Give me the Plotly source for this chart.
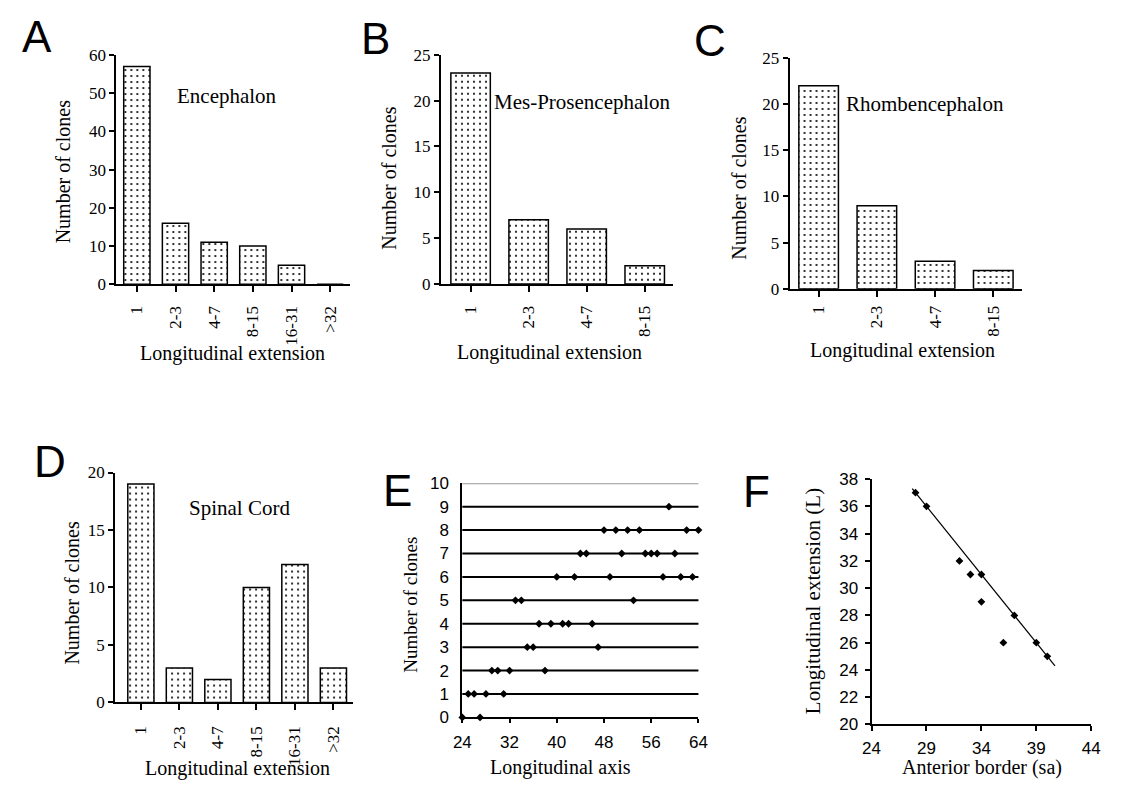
import plotly.graph_objects as go

# page is 1123x792; the browser body has an 8px margin, so the figure is
# sized to fit inside it and reference pixel positions are shifted by 8px.
PAGE_W, PAGE_H = 1123, 792
OFF = 8
W, H = PAGE_W - 2 * OFF, PAGE_H - 2 * OFF - 2

# ---------------- data ----------------
cats_A = ["1", "2-3", "4-7", "8-15", "16-31", ">32"]
vals_A = [57, 16, 11, 10, 5, 0]
cats_B = ["1", "2-3", "4-7", "8-15"]
vals_B = [23, 7, 6, 2]
cats_C = ["1", "2-3", "4-7", "8-15"]
vals_C = [22, 9, 3, 2]
cats_D = ["1", "2-3", "4-7", "8-15", "16-31", ">32"]
vals_D = [19, 3, 2, 10, 12, 3]

# Panel E: positions along the longitudinal axis for each clone-count row
E_rows = [0, 1, 2, 3, 4, 5, 6, 7, 8, 9]
E_positions = [
    [24, 27],
    [25, 26, 28, 31],
    [29, 30, 32, 38],
    [35, 36, 47],
    [37, 39, 41, 42, 46],
    [33, 34, 53],
    [40, 43, 49, 58, 61, 63],
    [44, 45, 51, 55, 56, 57, 60],
    [48, 50, 52, 54, 62, 64],
    [59],
]
E_grid_levels = [1, 2, 3, 4, 5, 6, 7, 8, 9, 10]

# Panel F
F_sa = [28, 29, 32, 33, 34, 34, 36, 37, 39, 40]
F_L = [37, 36, 32, 31, 31, 29, 26, 28, 26, 25]
F_fit_sa = [27.7, 40.7]
F_fit_total = 65  # L + sa = 65
F_fit_L = [F_fit_total - s for s in F_fit_sa]

SERIF = "Liberation Serif, Times New Roman, serif"
SANS = "Liberation Sans, Arial, sans-serif"


def px(a):
    return (a - OFF) / W


def py(b):
    return 1 - (b - OFF) / H


def dx(a, b):
    return [px(a), px(b)]


def dy(top, bottom):
    return [py(bottom), py(top)]


fig = go.Figure()

bar_pattern = dict(shape=".", size=6, solidity=0.1, fgcolor="black", bgcolor="white", fillmode="replace")

panels = [
    ("", cats_A, vals_A, dx(109, 346), dy(47, 282), [-0.53, 5.5], [0, 60], 10, 7),
    ("2", cats_B, vals_B, dx(439, 675), dy(46.7, 281.7), [-0.51, 3.49], [0, 25], 5, 7),
    ("3", cats_C, vals_C, dx(793.3, 1030), dy(50, 286.7), [-0.5, 3.5], [0, 25], 5, 2),
    ("4", cats_D, vals_D, dx(107.7, 350), dy(475, 710.7), [-0.67, 5.52], [0, 20], 5, 9),
]

layout_axes = {}
for suf, cats, vals, xd, yd, xr, yr, dt, stand in panels:
    fig.add_trace(go.Bar(
        x=cats, y=vals, width=0.68,
        marker=dict(color="white", pattern=bar_pattern, line=dict(color="black", width=1.5)),
        xaxis="x" + suf, yaxis="y" + suf, showlegend=False,
    ))
    layout_axes["xaxis" + suf] = dict(
        domain=xd, range=xr, type="category", anchor="y" + suf,
        showline=True, linecolor="black", linewidth=2,
        ticks="outside", ticklen=6, tickwidth=2, tickcolor="black",
        tickangle=-90, ticklabelstandoff=stand,
        tickfont=dict(family=SERIF, size=17, color="black"),
        showgrid=False, zeroline=False, fixedrange=True,
    )
    layout_axes["yaxis" + suf] = dict(
        domain=yd, range=yr, anchor="x" + suf, dtick=dt, tick0=0,
        showline=True, linecolor="black", linewidth=2,
        ticks="outside", ticklen=5, tickwidth=2, tickcolor="black",
        tickfont=dict(family=SERIF, size=17, color="black"),
        showgrid=False, zeroline=False, fixedrange=True,
    )

# Panel E
ex, ey = [], []
for r, pos in zip(E_rows, E_positions):
    for p in pos:
        ex.append(p)
        ey.append(r)
fig.add_trace(go.Scatter(
    x=ex, y=ey, mode="markers", xaxis="x5", yaxis="y5",
    marker=dict(symbol="diamond", size=6, color="black"),
    cliponaxis=False, showlegend=False,
))
layout_axes["xaxis5"] = dict(
    domain=dx(460.7, 700.7), range=[24, 64], anchor="y5", tick0=24, dtick=8,
    showline=True, linecolor="black", linewidth=2,
    ticks="outside", ticklen=4, tickwidth=1.5, tickcolor="black", ticklabelstandoff=4,
    tickfont=dict(family=SANS, size=17, color="black"),
    showgrid=False, zeroline=False, fixedrange=True,
)
layout_axes["yaxis5"] = dict(
    domain=dy(486, 726), range=[0, 10], anchor="x5", tick0=0, dtick=1,
    showline=True, linecolor="black", linewidth=2,
    ticks="", ticklabelstandoff=8,
    tickfont=dict(family=SANS, size=17, color="black"),
    showgrid=False, zeroline=False, fixedrange=True,
)

shapes = []
for lv in E_grid_levels:
    shapes.append(dict(
        type="line", xref="x5 domain", yref="y5", x0=0, x1=1, y0=lv, y1=lv,
        line=dict(color="#999999" if lv == max(E_grid_levels) else "black", width=2),
        layer="below",
    ))

# Panel F
fig.add_trace(go.Scatter(
    x=F_fit_sa, y=F_fit_L, mode="lines", xaxis="x6", yaxis="y6",
    line=dict(color="black", width=1.2), showlegend=False,
))
fig.add_trace(go.Scatter(
    x=F_sa, y=F_L, mode="markers", xaxis="x6", yaxis="y6",
    marker=dict(symbol="diamond", size=6, color="black"), showlegend=False,
))
layout_axes["xaxis6"] = dict(
    domain=dx(876.7, 1100), range=[24, 44], anchor="y6", tick0=24, dtick=5,
    showline=True, linecolor="black", linewidth=2,
    ticks="outside", ticklen=5, tickwidth=1.5, tickcolor="black", ticklabelstandoff=2,
    tickfont=dict(family=SANS, size=17, color="black"),
    showgrid=False, zeroline=False, fixedrange=True,
)
layout_axes["yaxis6"] = dict(
    domain=dy(481.7, 733.3), range=[20, 38], anchor="x6", tick0=20, dtick=2,
    showline=True, linecolor="black", linewidth=2,
    ticks="outside", ticklen=5, tickwidth=1.5, tickcolor="black", ticklabelstandoff=3,
    tickfont=dict(family=SANS, size=17, color="black"),
    showgrid=False, zeroline=False, fixedrange=True,
)

# ---------------- annotations ----------------
ann = []


def text(x, y, s, size, family=SERIF, angle=0):
    ann.append(dict(
        x=px(x), y=py(y), xref="paper", yref="paper", text=s, showarrow=False,
        xanchor="center", yanchor="middle", textangle=angle,
        font=dict(family=family, size=size, color="black"),
    ))


# panel letters
for letter, x, y in [("A", 28, 28), ("B", 372, 30), ("C", 712, 32),
                     ("D", 42, 464), ("E", 395, 493), ("F", 760, 494)]:
    text(x, y, letter, 44, SANS)

# inner labels
text(221, 89, "Encephalon", 21)
text(583, 95, "Mes-Prosencephalon", 21)
text(931, 97, "Rhombencephalon", 21)
text(234, 511, "Spinal Cord", 21)

# x titles
text(227, 353, "Longitudinal extension", 20)
text(549, 352, "Longitudinal extension", 20)
text(908, 350, "Longitudinal extension", 20)
text(232, 778, "Longitudinal extension", 20)
text(560, 777, "Longitudinal axis", 20)
text(989, 777, "Anterior border (sa)", 20)

# y titles
text(55, 166, "Number of clones", 20, angle=-90)
text(386, 173, "Number of clones", 20, angle=-90)
text(742, 183, "Number of clones", 20, angle=-90)
text(63, 598, "Number of clones", 20, angle=-90)
text(408, 610, "Number of clones", 19, angle=-90)
text(817, 607, "Longitudinal extension (L)", 21, angle=-90)

fig.update_layout(
    width=W, height=H, margin=dict(l=0, r=0, t=0, b=0),
    paper_bgcolor="white", plot_bgcolor="white",
    annotations=ann, shapes=shapes, showlegend=False,
    **layout_axes,
)

fig.write_html("out.html")
